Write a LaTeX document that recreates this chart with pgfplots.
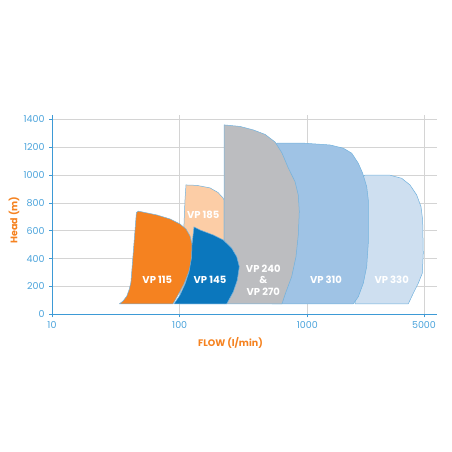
\documentclass[border=0pt]{standalone}
\usepackage{pgfplots}
\pgfplotsset{compat=1.18}
\usepackage{fontspec}
\setmainfont{Poppins}
\definecolor{cOrange}{HTML}{F58220}
\definecolor{cPeach}{HTML}{FCCDA6}
\definecolor{cBlue}{HTML}{0B77BD}
\definecolor{cGray}{HTML}{BCBDC0}
\definecolor{cMid}{HTML}{9FC3E5}
\definecolor{cLight}{HTML}{CEDFF0}
\definecolor{cOutline}{HTML}{72B2DE}
\definecolor{cTick}{HTML}{4AA3DB}
\definecolor{cAxis}{HTML}{3D9AD6}
\definecolor{cGrid}{HTML}{D4D4D4}
\begin{document}
\begin{tikzpicture}
\path[use as bounding box] (0,0) rectangle (452pt,452pt);
\begin{axis}[
  at={(52pt,137.7pt)}, anchor=south west,
  scale only axis, width=385pt, height=199.3pt,
  xmode=log, xmin=10, xmax=10350, ymin=0, ymax=1430,
  axis lines=left, axis line style={cAxis, line width=0.8pt, -},
  xtick={10,100,1000,8185}, xticklabels={10,100,1000,5000},
  ytick={0,200,400,600,800,1000,1200,1400},
  minor xtick={}, 
  grid=major, major grid style={cGrid, line width=0.6pt},
  tick align=outside, major tick length=3pt,
  tick style={cAxis, line width=0.6pt},
  /pgf/number format/assume math mode=true,
  /pgf/number format/1000 sep={},
  ticklabel style={font=\fontsize{9.5}{11}\selectfont, text=cTick},
  xticklabel style={yshift=-1pt},
  yticklabel style={xshift=-1pt},
  xlabel={FLOW (l/min)}, ylabel={Head (m)},
  label style={font=\fontsize{9.5}{11}\selectfont\bfseries, text=cOrange},
  xlabel style={at={(axis description cs:0.4636,-0.1425)}, anchor=center},
  ylabel style={at={(axis description cs:-0.0987,0.473)}, anchor=center},
  clip=false,
]
% VP 330
\addplot[fill=cLight, draw=cOutline, line width=0.5pt] coordinates {
(2359,75) (2583,964) (2825,999) (4436,998) (5474,976) (6361,928) (7178,856) (7758,772) (7993,677) (8082,438) (7938,294) (7389,223) (6751,151) (6167,75) (2359,75)};
% VP 310
\addplot[fill=cMid, draw=cOutline, line width=0.5pt] coordinates {
(528,75) (528,1180) (578,1228) (929,1228) (1503,1215) (1910,1192) (2223,1156) (2504,1084) (2710,1012) (2913,916) (2998,821) (2998,510) (2913,342) (2740,223) (2504,126) (2288,75) (528,75)};
% VP 185
\addplot[fill=cPeach, draw=cOutline, line width=0.5pt] coordinates {
(100.5,75) (106,462) (110,821) (112,928) (136.6,925) (172.7,907) (199.5,874) (218.3,835) (222.3,821) (222.3,75) (100.5,75)};
% VP 240 & VP 270
\addplot[fill=cGray, draw=cOutline, line width=0.5pt] coordinates {
(222.3,75) (222.3,1359) (296.6,1348) (376.8,1323) (465.6,1291) (557.6,1237) (632,1158) (708.7,1050) (799.9,952) (848.5,856) (864.3,737) (848.5,569) (814,413) (753.4,270) (673.8,151) (632.4,75) (222.3,75)};
% VP 115
\addplot[fill=cOrange, draw=cOutline, line width=0.5pt] coordinates {
(33.7,75) (36,95) (38.5,130) (40.3,180) (41.5,230) (45.8,730) (47.5,740) (66.1,713) (84,684) (100.5,648) (112,612) (120.4,562) (126,490) (126,419) (122.6,354) (116,289) (108,217) (97,138) (88.6,75) (33.7,75)};
% VP 145
\addplot[fill=cBlue, draw=cOutline, line width=0.5pt] coordinates {
(90.2,75) (100.5,138) (110,217) (118.3,304) (123.7,404) (124.8,497) (129.4,627) (144.2,605) (183.3,569) (219.5,533) (255.5,474) (279.5,413) (292.9,342) (282.5,246) (262.9,162) (233.4,75) (90.2,75)};
\begin{scope}[every node/.style={font=\fontsize{10}{11.5}\selectfont\bfseries, text=white, align=center}]
\node at (axis cs:66.8,246) {VP 115};
\node at (axis cs:172.7,246) {VP 145};
\node at (axis cs:153,713) {VP 185};
\node at (axis cs:451.6,246) {VP 240\\\&\\VP 270};
\node at (axis cs:1399,246) {VP 310};
\node at (axis cs:4570,246) {VP 330};
\end{scope}
\end{axis}
\end{tikzpicture}
\end{document}
